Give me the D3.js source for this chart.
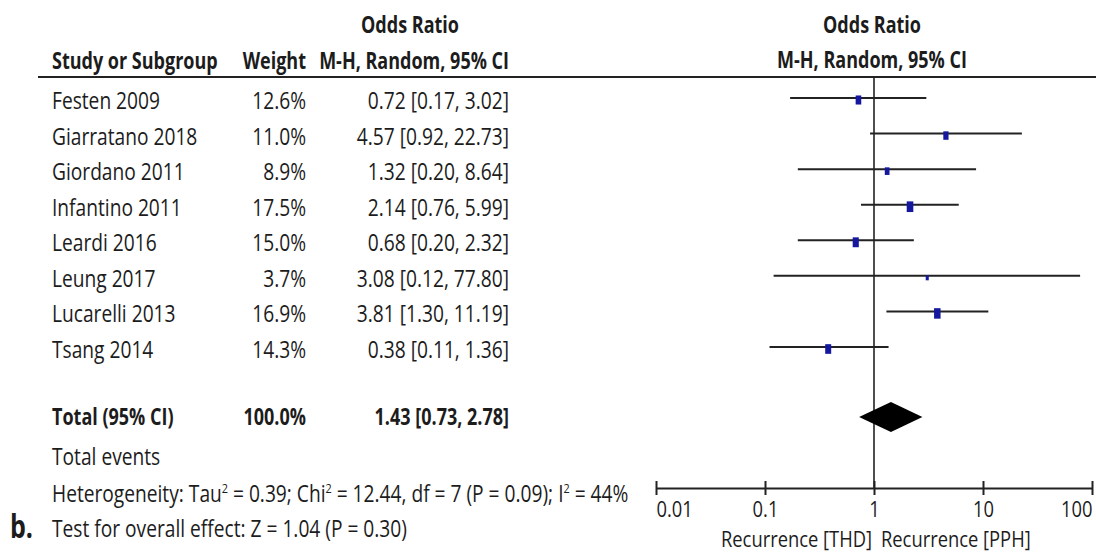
<!DOCTYPE html>
<html><head><meta charset="utf-8">
<script src="https://cdn.jsdelivr.net/npm/d3@7"></script>
<style>
body{margin:0;background:#fff;}
svg text{font-family:"Open Sans","DejaVu Sans Condensed",sans-serif;fill:#1c1c1c;}
</style></head>
<body><svg id="c" width="1096" height="554"></svg>
<script>
const studies = ["Festen 2009","Giarratano 2018","Giordano 2011","Infantino 2011","Leardi 2016","Leung 2017","Lucarelli 2013","Tsang 2014"];
const weights = [12.6, 11.0, 8.9, 17.5, 15.0, 3.7, 16.9, 14.3];
const ors = [0.72, 4.57, 1.32, 2.14, 0.68, 3.08, 3.81, 0.38];
const los = [0.17, 0.92, 0.20, 0.76, 0.20, 0.12, 1.30, 0.11];
const his = [3.02, 22.73, 8.64, 5.99, 2.32, 77.80, 11.19, 1.36];
const total = {weight: 100.0, or: 1.43, lo: 0.73, hi: 2.78};
const tickValues = [0.01, 0.1, 1, 10, 100];
const tickLabels = ["0.01", "0.1", "1", "10", "100"];

const svg = d3.select("#c");
const FS = 23;
const FONT = '"Open Sans","DejaVu Sans Condensed",sans-serif';
const x = d3.scaleLog().domain([0.01, 100]).range([656, 1092]);
const y = d3.scalePoint().domain(studies).range([100, 349]);

// heterogeneity line first: used to calibrate horizontal text compression
const het = svg.append("text").attr("font-size",FS);
const sup = (t)=>{ het.append("tspan").attr("font-size",13).attr("dy",-9).text(t); };
het.append("tspan").text("Heterogeneity: Tau");
sup("2");
het.append("tspan").attr("dy",9).text(" = 0.39; Chi");
sup("2");
het.append("tspan").attr("dy",9).text(" = 12.44, df = 7 (P = 0.09); I");
sup("2");
het.append("tspan").attr("dy",9).text(" = 44%");
const SX = 577 / het.node().getComputedTextLength();
het.attr("transform",`translate(52,502) scale(${SX},1)`);

// calibrate bold compression on the header text
const probe = svg.append("text").attr("font-size",FS).attr("font-weight","bold").text("M-H, Random, 95% CI");
const SXB = 190 / probe.node().getComputedTextLength();
probe.remove();

function txt(px, py, s, o = {}) {
  return svg.append("text")
    .attr("transform", `translate(${px},${py}) scale(${o.bold ? SXB : SX},1)`)
    .attr("text-anchor", o.anchor || "start")
    .attr("font-weight", o.bold ? "bold" : "normal")
    .attr("font-size", o.size || FS)
    .text(s);
}

// header
txt(410, 33, "Odds Ratio", {anchor:"middle", bold:true});
txt(52, 69, "Study or Subgroup", {bold:true});
txt(306, 69, "Weight", {anchor:"end", bold:true});
txt(509, 69, "M-H, Random, 95% CI", {anchor:"end", bold:true});
txt(x(1)-2, 33, "Odds Ratio", {anchor:"middle", bold:true});
txt(x(1)-2, 68, "M-H, Random, 95% CI", {anchor:"middle", bold:true});
svg.append("line").attr("x1",38).attr("x2",1096).attr("y1",77).attr("y2",77).attr("stroke","#222").attr("stroke-width",2);

// null line
svg.append("line").attr("x1",x(1)).attr("x2",x(1)).attr("y1",77).attr("y2",488).attr("stroke","#222").attr("stroke-width",1.6);

// rows
studies.forEach((s,i)=>{
  const yy = y(s);
  txt(52, yy+9, s);
  txt(306, yy+9, weights[i].toFixed(1)+"%", {anchor:"end"});
  txt(509, yy+9, ors[i].toFixed(2)+" ["+los[i].toFixed(2)+", "+his[i].toFixed(2)+"]", {anchor:"end"});
  svg.append("line").attr("x1",x(los[i])).attr("x2",x(his[i])).attr("y1",yy-2).attr("y2",yy-2).attr("stroke","#222").attr("stroke-width",2);
  const h = 2.55*Math.sqrt(weights[i]);
  const w = h*0.62;
  svg.append("rect").attr("x",x(ors[i])-w/2).attr("y",yy-h/2).attr("width",w).attr("height",h).attr("fill","#15189e");
});

// total
const ty = 417;
txt(52, 425, "Total (95% CI)", {bold:true});
txt(306, 425, total.weight.toFixed(1)+"%", {anchor:"end", bold:true});
txt(509, 425, total.or.toFixed(2)+" ["+total.lo.toFixed(2)+", "+total.hi.toFixed(2)+"]", {anchor:"end", bold:true});
svg.append("path").attr("d",`M${x(total.lo)},${ty} L${x(total.or)},${ty-15} L${x(total.hi)},${ty} L${x(total.or)},${ty+15} Z`).attr("fill","#000");

txt(52, 465, "Total events");
txt(52, 537, "Test for overall effect: Z = 1.04 (P = 0.30)");
txt(10, 538, "b.", {bold:true, size:32});

// axis
const ax = svg.append("g").attr("transform","translate(0,488)")
  .call(d3.axisBottom(x).tickValues(tickValues).tickFormat((d,i)=>tickLabels[i]).tickSizeOuter(0));
ax.select(".domain").attr("stroke","#222").attr("stroke-width",2);
ax.selectAll(".tick line").attr("y1",-7).attr("y2",7).attr("stroke","#222").attr("stroke-width",2);
ax.selectAll(".tick text")
  .attr("y",null).attr("dy",null)
  .attr("transform",`translate(0,29) scale(${SX},1)`)
  .attr("text-anchor",(d,i)=> i===0 ? "start" : (i===tickValues.length-1 ? "end" : "middle"))
  .attr("font-size",22).attr("fill","#1c1c1c")
  .attr("font-family",FONT);
txt(x(1)-2, 547, "Recurrence [THD]", {anchor:"end", size:22});
txt(x(1)+7, 547, "Recurrence [PPH]", {size:22});
</script></body></html>
